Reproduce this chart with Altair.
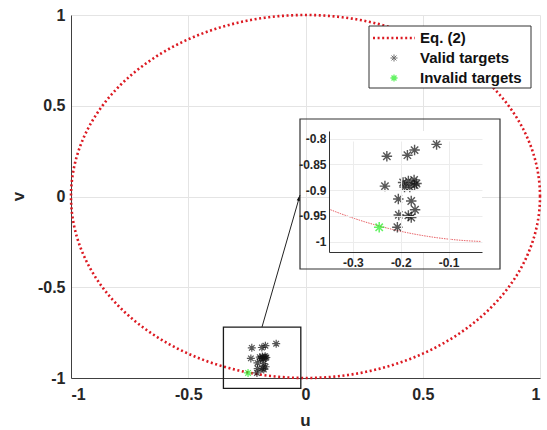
import altair as alt
import numpy as np
import pandas as pd

# ---------------- data ----------------
valid_u = [-0.125, -0.171, -0.186, -0.229, -0.233, -0.195, -0.184, -0.172, -0.167, -0.192,
           -0.181, -0.171, -0.205, -0.178, -0.170, -0.204, -0.184, -0.178, -0.207]
valid_v = [-0.811, -0.822, -0.832, -0.834, -0.892, -0.885, -0.882, -0.880, -0.887, -0.894,
           -0.894, -0.890, -0.917, -0.921, -0.938, -0.948, -0.949, -0.953, -0.972]
invalid_u = [-0.245]
invalid_v = [-0.972]

main_ticks = [-1, -0.5, 0, 0.5, 1]
inset_u_ticks = [-0.3, -0.2, -0.1]
inset_v_ticks = [-1, -0.95, -0.9, -0.85, -0.8]
main_domain = [-1, 1]
inset_u_domain = [-0.35, -0.03]
inset_v_domain = [-1.02, -0.785]
zoom_box_u = [-0.35, -0.02]
zoom_box_v = [-1.057, -0.72]
arrow_u = [-0.1855, -0.0235]
arrow_v = [-0.719, 0.008]
legend_labels = ["Eq. (2)", "Valid targets", "Invalid targets"]

# Eq. (2): u^2 + v^2 = 1
theta = np.linspace(0, 2 * np.pi, 721)
circle = pd.DataFrame({"u": np.cos(theta), "v": np.sin(theta), "i": np.arange(len(theta))})
iu = np.linspace(inset_u_domain[0] + 0.003, inset_u_domain[1] - 0.003, 120)
inset_circle = pd.DataFrame({"u": iu, "v": -np.sqrt(1 - iu ** 2)})

valid = pd.DataFrame({"u": valid_u, "v": valid_v})
invalid = pd.DataFrame({"u": invalid_u, "v": invalid_v})
box = pd.DataFrame({"u": [zoom_box_u[0]], "u2": [zoom_box_u[1]],
                    "v": [zoom_box_v[0]], "v2": [zoom_box_v[1]]})
arrow = pd.DataFrame({"u": [arrow_u[0]], "u2": [arrow_u[1]],
                      "v": [arrow_v[0]], "v2": [arrow_v[1]]})
arrow_head = pd.DataFrame({"u": [arrow_u[1]], "v": [arrow_v[1]]})
inset_bg = pd.DataFrame({"u": [inset_u_domain[0]], "u2": [inset_u_domain[1]],
                         "v": [inset_v_domain[0]], "v2": [inset_v_domain[1]]})

# ---------------- styles ----------------
FONT = "Liberation Sans"
RED = "#dc1a22"
GREEN = "#22ee22"
ASTERISK = "M-1,0L1,0M0,-1L0,1M-0.7,-0.7L0.7,0.7M-0.7,0.7L0.7,-0.7"
ARROW = "M0,0L-0.55,2L0.55,2Z"
W, H = 469, 363
minus_fix = "datum.value < 0 ? '-' + format(-datum.value, '~g') : format(datum.value, '~g')"

mx = alt.Scale(domain=main_domain, nice=False, zero=False)
my = alt.Scale(domain=main_domain, nice=False, zero=False)

x_axis = alt.Axis(values=main_ticks, labelExpr=minus_fix, title="u", grid=True, ticks=False,
                  domainColor="#404040", domainWidth=1, gridColor="#e4e4e4",
                  labelFont=FONT, labelFontSize=16, labelFontWeight="bold", labelColor="#262626",
                  labelPadding=8, titleFont=FONT, titleFontSize=17, titleFontWeight="bold",
                  titleColor="#262626", titleX=234, titleY=42, titleBaseline="middle")
y_axis = alt.Axis(values=main_ticks, labelExpr=minus_fix, title="v", grid=True, ticks=False,
                  domainColor="#404040", domainWidth=1, gridColor="#e4e4e4",
                  labelFont=FONT, labelFontSize=16, labelFontWeight="bold", labelColor="#262626",
                  labelPadding=6, titleFont=FONT, titleFontSize=17, titleFontWeight="bold",
                  titleColor="#262626", titleX=-53, titleY=181, titleBaseline="middle",
                  titleAlign="center", titleAngle=-90)


def mxe(f="u"):
    return alt.X(f + ":Q", scale=mx, axis=x_axis)


def mye(f="v"):
    return alt.Y(f + ":Q", scale=my, axis=y_axis)


# ---------------- main plot ----------------
ellipse = alt.Chart(circle).mark_line(color=RED, strokeWidth=2.6, strokeDash=[2, 2.6]).encode(
    x=mxe(), y=mye(), order="i:Q")
zoom_rect = alt.Chart(box).mark_rect(fillOpacity=0, stroke="#1a1a1a", strokeWidth=1.3).encode(
    x=mxe(), x2="u2:Q", y=mye(), y2="v2:Q")
main_valid = alt.Chart(valid).mark_point(shape=ASTERISK, filled=False, size=64,
                                         color="#111111", strokeWidth=1.2).encode(x=mxe(), y=mye())
main_invalid = alt.Chart(invalid).mark_point(shape=ASTERISK, filled=False, size=64,
                                             color=GREEN, strokeWidth=1.3).encode(x=mxe(), y=mye())
arrow_line = alt.Chart(arrow).mark_rule(color="#222222", strokeWidth=1).encode(
    x=mxe(), x2="u2:Q", y=mye(), y2="v2:Q")
arrow_tip = alt.Chart(arrow_head).mark_point(shape=ARROW, filled=True, size=36, angle=16,
                                            color="#111111", opacity=1).encode(x=mxe(), y=mye())

main_group = alt.layer(ellipse, zoom_rect, main_valid, main_invalid, arrow_line, arrow_tip)

# ---------------- inset ----------------
ix = alt.Scale(domain=inset_u_domain, range=[258, 411], nice=False, zero=False)
iy = alt.Scale(domain=inset_v_domain, range=[237, 116], nice=False, zero=False)
ix_axis = alt.Axis(values=inset_u_ticks, labelExpr=minus_fix, orient="bottom", offset=-126,
                   title=None, grid=True, ticks=False, domainColor="#333333", gridColor="#ececec",
                   labelFont=FONT, labelFontSize=12, labelFontWeight="bold", labelColor="#262626",
                   labelPadding=5, zindex=1)
iy_axis = alt.Axis(values=inset_v_ticks, labelExpr=minus_fix, orient="left", offset=-258,
                   title=None, grid=True, ticks=False, domainColor="#333333", gridColor="#ececec",
                   labelFont=FONT, labelFontSize=12, labelFontWeight="bold", labelColor="#262626",
                   labelPadding=3, zindex=1)


def ixe(f="u"):
    return alt.X(f + ":Q", scale=ix, axis=ix_axis)


def iye(f="v"):
    return alt.Y(f + ":Q", scale=iy, axis=iy_axis)


inset_back = alt.Chart(inset_bg).mark_rect(fill="white").encode(
    x=ixe(), x2="u2:Q", y=iye(), y2="v2:Q")
inset_line = alt.Chart(inset_circle).mark_line(color=RED, strokeWidth=0.9,
                                               strokeDash=[1.5, 1], opacity=0.8).encode(
    x=ixe(), y=iye())
inset_valid = alt.Chart(valid).mark_point(shape=ASTERISK, filled=False, size=110,
                                          color="#111111", strokeWidth=1.4).encode(x=ixe(), y=iye())
inset_invalid = alt.Chart(invalid).mark_point(shape=ASTERISK, filled=False, size=110,
                                              color=GREEN, strokeWidth=1.5).encode(x=ixe(), y=iye())

inset_group = alt.layer(inset_back, inset_line, inset_valid, inset_invalid)

# ---------------- decorations: inset frame + legend ----------------
one = pd.DataFrame({"k": [0]})
inset_frame = alt.Chart(one).mark_rect(fillOpacity=0, stroke="#333333", strokeWidth=1.2).encode(
    x=alt.value(229), x2=alt.value(429), y=alt.value(104), y2=alt.value(254))
legend_box = alt.Chart(one).mark_rect(fill="white", stroke="#333333", strokeWidth=1).encode(
    x=alt.value(298), x2=alt.value(460), y=alt.value(11), y2=alt.value(73))
legend_line = alt.Chart(one).mark_rule(color=RED, strokeWidth=2.6, strokeDash=[2, 2.6]).encode(
    x=alt.value(302), x2=alt.value(344), y=alt.value(23))
legend_valid = alt.Chart(one).mark_point(shape=ASTERISK, filled=False, size=50,
                                         color="#333333", strokeWidth=1).encode(
    x=alt.value(323), y=alt.value(43))
legend_invalid = alt.Chart(one).mark_point(shape=ASTERISK, filled=False, size=50,
                                           color=GREEN, strokeWidth=1.3).encode(
    x=alt.value(323), y=alt.value(63))
legend_texts = [
    alt.Chart(pd.DataFrame({"label": [lab]})).mark_text(
        font=FONT, fontSize=15, fontWeight="bold", color="#111111", align="left",
        baseline="middle").encode(x=alt.value(349), y=alt.value(23 + 20 * i), text="label:N")
    for i, lab in enumerate(legend_labels)
]
deco_group = alt.layer(inset_frame, legend_box, legend_line, legend_valid, legend_invalid,
                       *legend_texts)

chart = alt.layer(main_group, inset_group, deco_group).resolve_scale(
    x="independent", y="independent"
).resolve_axis(x="independent", y="independent").properties(
    width=W, height=H,
    autosize=alt.AutoSizeParams(type="none"),
    padding={"left": 71, "top": 15, "right": 7, "bottom": 52},
    background="white",
).configure_view(stroke=None)

chart.save("out.html", embed_options={"renderer": "svg", "actions": False})
